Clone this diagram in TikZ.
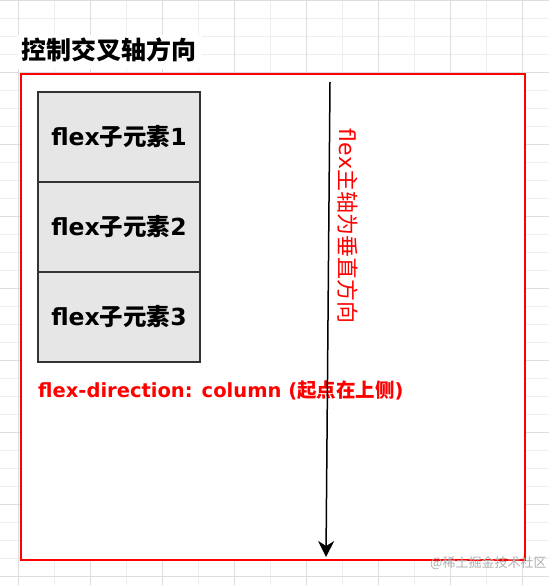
\documentclass[tikz,border=0pt]{standalone}
\usepackage{fontspec}
\setmainfont{DejaVu Sans}
\newfontfamily\cj{Noto Sans CJK SC}
\usetikzlibrary{arrows.meta}
\definecolor{gridminor}{HTML}{EEEEEE}
\definecolor{gridmajor}{HTML}{DDDDDD}
\definecolor{boxfill}{HTML}{E6E6E6}
\definecolor{boxline}{HTML}{333333}
\definecolor{mark}{HTML}{B0B0B0}
\tikzset{
  itembox/.style={draw=boxline, line width=1.5pt, fill=boxfill, minimum width=162pt, minimum height=90pt, inner sep=0pt,
    font=\fontsize{23.5}{27}\selectfont\bfseries, text=black},
  redtext/.style={text=red, inner sep=0pt},
}
\begin{document}
\begin{tikzpicture}[x=1pt,y=-1pt]
\useasboundingbox (0,0) rectangle (549,585);
\fill[white] (0,0) rectangle (549,585);
% grid
\foreach \yy in {0,18,...,584} {\draw[gridminor, line width=0.8pt] (0,\yy) -- (549,\yy);}
\foreach \xx in {18,54,...,548} {\draw[gridminor, line width=0.8pt] (\xx,0) -- (\xx,585);}
\foreach \yy in {0,72,...,584} {\draw[gridmajor, line width=0.8pt] (0,\yy) -- (549,\yy);}
\foreach \xx in {18,90,...,548} {\draw[gridmajor, line width=0.8pt] (\xx,0) -- (\xx,585);}
% title
\fill[white] (18,35) rectangle (202,69);
\node[anchor=west, inner sep=0pt, font=\fontsize{25}{29}\selectfont\bfseries\cj] (title) at (21,50) {控制交叉轴方向};
% container
\node[draw=red, line width=2pt, fill=white, anchor=north west, minimum width=504pt, minimum height=486pt, inner sep=0pt] (box) at (20,73) {};
% items
\node[itembox] (i1) at (119,137) {flex{\cj 子元素}1};
\node[itembox] (i2) at (119,227) {flex{\cj 子元素}2};
\node[itembox] (i3) at (119,317) {flex{\cj 子元素}3};
% labels
\node[redtext, anchor=west, font=\fontsize{19.5}{22}\selectfont\bfseries] (dir) at (38,390) {flex-direction: column ({\cj 起点在上侧})};
\node[redtext, rotate=-90, font=\fontsize{22}{26}\selectfont] (axis) at (348,226) {flex{\cj 主轴为垂直方向}};
% arrow
\coordinate (atop) at (330,82);
\coordinate (abot) at (326,557);
\draw[line width=1.5pt, -{Stealth[length=16pt,width=16pt,inset=5pt]}] (atop) -- (abot);
% watermark
\node[text=mark, anchor=west, inner sep=0pt, font=\fontsize{13}{15}\selectfont\cj] (wm) at (430,563) {@稀土掘金技术社区};
\end{tikzpicture}
\end{document}
